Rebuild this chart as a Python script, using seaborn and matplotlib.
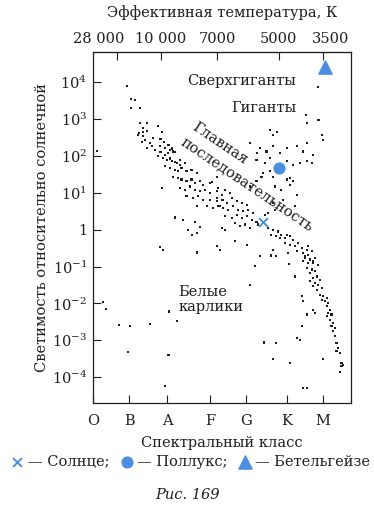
import numpy as np
import pandas as pd
import seaborn as sns
import matplotlib.pyplot as plt
import matplotlib.transforms as mtransforms

# axis labels / ticks
classes = ['O', 'B', 'A', 'F', 'G', 'K', 'M']
class_pos = [0.0, 0.95, 1.94, 3.06, 4.0, 5.07, 6.01]
temp_labels = ['28 000', '10 000', '7000', '5000', '3500']
temp_pos = [0.63, 1.78, 3.25, 4.86, 6.01]
lum_ticks = [1e4, 1e3, 1e2, 1e1, 1, 1e-1, 1e-2, 1e-3, 1e-4]
lum_labels = ['$10^4$', '$10^3$', '$10^2$', '$10^1$', '1',
              '$10^{-1}$', '$10^{-2}$', '$10^{-3}$', '$10^{-4}$']

# main sequence stars: position on spectral axis, log10(L / L_sun)
ms_x = [0.90, 1.00, 1.10, 1.01, 1.24, 1.23, 1.42, 1.20, 1.31, 1.42, 1.37, 1.29, 1.50, 1.77,
        1.85, 1.98, 2.07, 2.16, 1.77, 1.90, 2.03, 2.16, 2.29, 1.32, 1.19, 1.32, 1.58, 1.41,
        1.54, 1.63, 1.76, 1.89, 2.02, 2.10, 1.97, 1.71, 1.84, 1.93, 2.06, 2.19, 2.28, 2.41,
        1.89, 2.02, 2.15, 2.24, 2.32, 2.45, 2.58, 2.72, 2.10, 2.24, 2.32, 2.45, 2.58, 2.67,
        2.80, 2.89, 3.06, 2.28, 2.41, 2.54, 2.67, 2.80, 2.93, 3.06, 3.24, 3.37, 2.45, 2.63,
        2.76, 2.89, 3.06, 3.24, 3.41, 3.50, 2.72, 2.98, 3.15, 3.32, 3.11, 3.24, 1.71, 1.80,
        3.28, 3.45, 3.58, 3.24, 3.37, 3.63, 3.76, 3.89, 4.02, 3.28, 3.41, 3.54, 3.67, 3.80,
        3.93, 4.06, 4.19, 3.45, 3.63, 3.76, 3.89, 4.02, 4.15, 4.28, 3.37, 3.72, 3.85, 3.98,
        4.11, 4.50, 4.58, 4.32, 4.58, 4.72, 4.85, 4.67, 4.80, 4.93, 5.02, 5.15, 5.24, 5.02,
        5.15, 5.28, 5.37, 5.46, 5.59, 5.33, 5.50, 5.63, 5.72, 5.54, 5.67, 5.80, 5.76, 5.89,
        5.63, 5.54, 5.50, 5.63, 5.76, 4.89, 5.07, 5.59, 5.72, 5.80, 5.67, 5.85, 5.76, 5.67,
        5.80, 5.93, 5.89, 5.76, 5.98, 5.85, 5.93, 6.02, 6.11, 5.98, 6.07, 6.15, 6.11, 6.20,
        6.15, 6.24, 6.11, 6.20, 6.28, 6.24, 6.33, 6.28, 6.33, 6.37, 6.41, 6.37, 6.46, 6.50,
        6.54, 6.50, 6.46]
ms_logL = [3.89, 3.54, 3.51, 3.29, 3.29, 2.90, 2.90, 2.63, 2.66, 2.67, 2.43, 2.38, 2.34, 2.47,
           2.38, 2.30, 2.20, 2.11, 2.11, 2.02, 1.93, 1.84, 1.75, 2.76, 2.57, 2.55, 2.49, 2.21,
           2.26, 2.17, 2.26, 2.21, 2.17, 2.12, 2.08, 1.99, 1.94, 1.90, 1.85, 1.81, 1.90, 1.81,
           1.72, 1.67, 1.63, 1.58, 1.67, 1.58, 1.63, 1.54, 1.44, 1.40, 1.36, 1.31, 1.36, 1.27,
           1.31, 1.22, 1.27, 1.13, 1.08, 1.17, 1.08, 1.04, 1.08, 0.99, 1.04, 0.95, 0.90, 0.86,
           0.90, 0.81, 0.81, 0.77, 0.81, 0.72, 0.63, 0.63, 0.59, 0.63, 1.28, 1.44, 2.80, 2.66,
           1.13, 1.08, 0.99, 0.86, 0.81, 0.86, 0.77, 0.72, 0.68, 0.63, 0.59, 0.54, 0.63, 0.54,
           0.50, 0.54, 0.45, 0.36, 0.32, 0.41, 0.32, 0.36, 0.27, 0.22, 0.05, 0.18, 0.09, 0.14,
           0.05, 0.41, 0.45, 0.14, 0.05, 0.00, -0.05, -0.14, -0.18, -0.14, -0.22, -0.18, -0.27, -0.36,
           -0.41, -0.45, -0.36, -0.50, -0.54, -0.59, -0.63, -0.68, -0.59, -0.77, -0.81, -0.77, -0.90, -0.95,
           -0.45, -0.72, -0.86, -0.90, -0.86, -0.22, -0.14, -1.04, -1.08, -1.13, -1.17, -1.27, -1.31, -1.40,
           -1.44, -1.36, -1.49, -1.54, -1.58, -1.63, -1.76, -1.81, -1.85, -1.90, -1.94, -1.99, -2.08, -2.17,
           -2.26, -2.30, -2.35, -2.44, -2.53, -2.62, -2.66, -2.76, -2.89, -3.07, -3.21, -3.30, -3.34, -3.61,
           -3.66, -3.70, -3.87]

# giants and supergiants
giant_x = [4.63, 4.72, 4.11, 4.37, 4.54, 4.72, 4.89, 5.07, 5.33, 5.50, 5.59, 5.76, 4.28, 4.50,
           4.63, 5.07, 5.24, 5.41, 5.59, 5.72, 4.45, 4.72, 5.15, 5.24, 5.59, 5.98, 6.02, 5.88,
           5.58, 5.90, 4.81, 4.29, 5.07, 5.15, 4.76, 4.93, 5.33, 4.72, 4.76, 4.98, 5.28, 4.63,
           4.41, 4.28, 4.11]
giant_logL = [2.71, 2.57, 2.35, 2.21, 2.12, 2.26, 2.08, 2.21, 2.26, 2.12, 2.35, 2.03, 1.90, 1.81,
              1.94, 1.85, 1.76, 1.81, 1.85, 1.81, 1.54, 1.44, 1.40, 1.31, 2.89, 2.57, 2.44, 3.88,
              3.12, 2.97, 2.66, 2.08, 1.36, 1.22, 1.17, 1.08, 0.95, 0.72, 0.54, 0.81, 0.63, 1.58,
              1.44, 1.31, 1.17]

# white dwarfs and scattered stars
other_x = [0.11, 1.80, 2.15, 2.36, 2.67, 2.80, 2.49, 2.72, 2.59, 1.76, 1.84, 2.72, 3.45, 3.24,
           3.32, 3.72, 4.02, 4.24, 4.72, 4.80, 5.11, 5.28, 5.46, 5.50, 5.76, 5.80, 5.59, 5.46,
           5.33, 5.41, 4.80, 6.02, 4.72, 5.15, 0.28, 0.35, 0.69, 0.97, 1.50, 1.99, 2.19, 0.93,
           1.98, 1.89, 4.11, 4.37, 4.67, 4.47, 5.13, 5.50, 5.60]
other_logL = [2.14, 1.13, 0.33, 0.27, 0.22, 0.08, 0.00, -0.08, -0.14, -0.46, -0.54, -0.62, 0.00, -0.45,
              -0.54, -0.32, -0.41, -0.99, -0.54, -0.72, -0.63, -1.27, -1.81, -1.94, -2.17, -2.26, -2.30, -2.62,
              -2.93, -2.98, -3.07, -3.52, -3.52, -3.61, -1.96, -2.15, -2.59, -2.62, -2.55, -2.22, -2.47, -3.33,
              -3.40, -4.23, -1.49, -0.72, -0.70, -3.06, -0.92, -4.29, -4.29]

# named stars
named = ['Солнце', 'Поллукс', 'Бетельгейзе']
named_x = [4.45, 4.88, 6.06]
named_logL = [0.20, 1.67, 4.42]

stars = pd.DataFrame({
    'x': ms_x + giant_x + other_x,
    'L': 10 ** np.array(ms_logL + giant_logL + other_logL),
})

sns.set_style('ticks')
plt.rcParams['font.family'] = ['DejaVu Serif', 'DejaVu Sans']
plt.rcParams['mathtext.fontset'] = 'dejavuserif'
ink = '#1e1e1e'
blue = '#4a8ee0'
fs = 10.5

fig = plt.figure(figsize=(3.74, 5.14), dpi=100)
ax = fig.add_axes([0.248, 0.216, 0.6906, 0.683])

sns.scatterplot(data=stars, x='x', y='L', ax=ax, marker='s', s=2.2, color=ink,
                edgecolor='none', legend=False)
ax.set_yscale('log')

h_sun = ax.scatter(named_x[0], 10 ** named_logL[0], marker='x', s=40, color=blue, linewidths=1.4, zorder=5)
h_pol = ax.scatter(named_x[1], 10 ** named_logL[1], marker='o', s=60, color=blue, zorder=5)
h_bet = ax.scatter(named_x[2], 10 ** named_logL[2], marker='^', s=90, color=blue, zorder=5)

ax.set_xlim(0, 6.75)
ax.set_ylim(10 ** -4.7, 10 ** 4.82)
ax.set_xticks(class_pos, classes)
ax.set_yticks(lum_ticks, lum_labels)
ax.yaxis.set_minor_locator(plt.NullLocator())
ax.tick_params(direction='in', length=6, width=0.8, colors=ink, labelsize=fs, pad=4)
ax.tick_params(axis='x', pad=8)
ax.set_xlabel('Спектральный класс', fontsize=fs, color=ink, labelpad=6)
ax.set_ylabel('Светимость относительно солнечной', fontsize=fs, color=ink, labelpad=2)
for sp in ax.spines.values():
    sp.set_visible(True)
    sp.set_linewidth(0.9)
    sp.set_color(ink)

top = ax.secondary_xaxis('top')
top.set_xticks(temp_pos, temp_labels)
top.tick_params(direction='in', length=6, width=0.8, colors=ink, labelsize=fs, pad=4)
top.set_xlabel('Эффективная температура, К', fontsize=fs, color=ink, labelpad=11)
# the printed labels sit a little off their ticks at both ends
top_lbls = top.get_xticklabels()
top_lbls[0].set_transform(top_lbls[0].get_transform() +
                          mtransforms.ScaledTranslation(-0.18, 0, fig.dpi_scale_trans))
top_lbls[-1].set_transform(top_lbls[-1].get_transform() +
                           mtransforms.ScaledTranslation(0.08, 0, fig.dpi_scale_trans))

# region labels
ax.text(3.90, 10 ** 4.04, 'Сверхгиганты', fontsize=fs, color=ink, ha='center', va='center')
ax.text(4.46, 10 ** 3.31, 'Гиганты', fontsize=fs, color=ink, ha='center', va='center')
ax.text(3.32, 10 ** 2.33, 'Главная', fontsize=fs, color=ink, ha='center', va='center',
        rotation=-34, rotation_mode='anchor')
ax.text(4.04, 10 ** 1.22, 'последовательность', fontsize=fs, color=ink, ha='center', va='center',
        rotation=-34, rotation_mode='anchor')
ax.text(2.23, 10 ** -1.90, 'Белые\nкарлики', fontsize=fs, color=ink, ha='left', va='center',
        linespacing=1.05)

fig.legend([h_sun, h_pol, h_bet], ['— ' + named[0] + ';', '— ' + named[1] + ';', '— ' + named[2]],
           loc='center', bbox_to_anchor=(0.51, 0.101), ncol=3, frameon=False, fontsize=fs,
           handlelength=0.8, handletextpad=0.3, columnspacing=0.8, labelcolor=ink)

fig.text(0.5, 0.037, 'Рис. 169', fontsize=fs, style='italic', color=ink, ha='center', va='center')

fig.savefig('out.png', dpi=100, facecolor='white')
